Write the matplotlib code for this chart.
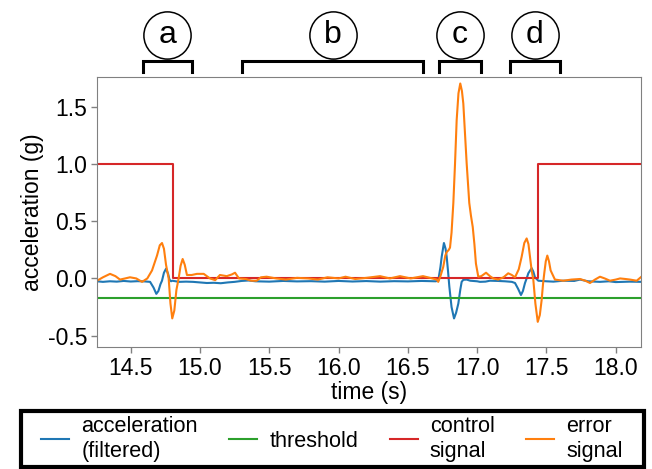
import numpy as np
import matplotlib
matplotlib.use('Agg')
import matplotlib.pyplot as plt
from matplotlib.patches import Rectangle

plt.rcParams['font.family'] = ['Liberation Sans', 'DejaVu Sans']
plt.rcParams['axes.unicode_minus'] = False

# acceleration (filtered)
acc_t = [14.257, 14.30, 14.35, 14.40, 14.45, 14.50, 14.55, 14.60, 14.64, 14.665,
         14.685, 14.70, 14.715, 14.726, 14.74, 14.755, 14.77, 14.78, 14.791, 14.80,
         14.85, 14.90, 14.95, 15.00, 15.05, 15.10, 15.15, 15.20, 15.25, 15.30,
         15.35, 15.40, 15.50, 15.60, 15.70, 15.80, 15.90, 16.00, 16.10, 16.20,
         16.30, 16.40, 16.50, 16.60, 16.70, 16.719, 16.735, 16.744, 16.760, 16.772,
         16.780, 16.790, 16.799, 16.815, 16.833, 16.848, 16.864, 16.878, 16.888, 16.90,
         16.924, 16.95, 17.00, 17.02, 17.06, 17.092, 17.15, 17.20, 17.25, 17.273,
         17.295, 17.316, 17.33, 17.345, 17.357, 17.369, 17.393, 17.405, 17.417, 17.441,
         17.50, 17.55, 17.62, 17.70, 17.742, 17.80, 17.886, 17.95, 18.00, 18.10, 18.19]
acc_v = [-0.025, -0.030, -0.025, -0.028, -0.022, -0.027, -0.024, -0.026, -0.030, -0.08,
         -0.135, -0.11, -0.05, -0.02, 0.05, 0.085, 0.04, -0.01, -0.025, -0.02,
         -0.030, -0.028, -0.030, -0.035, -0.040, -0.038, -0.042, -0.035, -0.030, -0.022,
         -0.018, -0.025, -0.028, -0.022, -0.026, -0.024, -0.028, -0.022, -0.027, -0.023,
         -0.028, -0.024, -0.026, -0.022, -0.025, -0.02, 0.10, 0.19, 0.31, 0.26,
         0.19, 0.06, -0.07, -0.25, -0.35, -0.30, -0.22, -0.10, -0.03, -0.012,
         -0.01, -0.02, -0.025, -0.03, -0.028, -0.02, -0.022, -0.025, -0.03, -0.04,
         -0.09, -0.145, -0.11, -0.04, 0.0, 0.045, 0.09, 0.06, 0.01, -0.02,
         -0.025, -0.028, -0.02, -0.022, -0.01, -0.025, -0.03, -0.025, -0.032, -0.028, -0.03]

# error signal
err_t = [14.257, 14.30, 14.351, 14.39, 14.423, 14.46, 14.495, 14.54, 14.582, 14.62,
         14.654, 14.69, 14.71, 14.726, 14.74, 14.755, 14.774, 14.787, 14.800, 14.815,
         14.83, 14.846, 14.86, 14.875, 14.89, 14.906, 14.94, 14.978, 15.027, 15.072,
         15.11, 15.144, 15.193, 15.23, 15.253, 15.281, 15.33, 15.37, 15.409, 15.44,
         15.481, 15.55, 15.62, 15.70, 15.78, 15.85, 15.92, 16.00, 16.05, 16.12,
         16.20, 16.299, 16.37, 16.443, 16.52, 16.609, 16.66, 16.708, 16.719, 16.735,
         16.755, 16.77, 16.78, 16.795, 16.804, 16.815, 16.828, 16.840, 16.852, 16.865,
         16.878, 16.890, 16.900, 16.912, 16.924, 16.943, 16.955, 16.968, 16.980, 16.991,
         17.008, 17.03, 17.064, 17.092, 17.116, 17.152, 17.19, 17.224, 17.25, 17.273,
         17.30, 17.321, 17.340, 17.357, 17.370, 17.381, 17.393, 17.405, 17.420, 17.437,
         17.452, 17.465, 17.475, 17.484, 17.495, 17.506, 17.518, 17.530, 17.561, 17.621,
         17.68, 17.742, 17.78, 17.814, 17.85, 17.886, 17.92, 17.958, 18.00, 18.031,
         18.07, 18.103, 18.151, 18.19]
err_v = [-0.02, 0.01, 0.04, 0.02, -0.01, 0.0, 0.01, 0.0, -0.03, 0.0,
         0.07, 0.20, 0.29, 0.31, 0.26, 0.12, 0.0, -0.22, -0.35, -0.28,
         -0.10, 0.0, 0.11, 0.17, 0.12, 0.03, 0.03, 0.04, 0.04, 0.0,
         -0.015, 0.03, 0.02, 0.035, 0.05, 0.0, -0.005, -0.02, -0.02, 0.01,
         0.015, 0.0, -0.01, 0.005, 0.0, -0.01, 0.01, 0.0, 0.015, -0.005,
         0.005, 0.02, 0.0, 0.02, 0.0, 0.02, 0.005, -0.01, -0.03, 0.02,
         0.10, 0.20, 0.23, 0.25, 0.27, 0.40, 0.66, 1.00, 1.385, 1.62,
         1.706, 1.64, 1.53, 1.27, 1.01, 0.66, 0.55, 0.45, 0.30, 0.13,
         0.015, 0.02, 0.05, 0.02, 0.0, -0.01, 0.01, 0.045, 0.03, 0.01,
         0.08, 0.19, 0.31, 0.35, 0.30, 0.19, 0.07, -0.01, -0.22, -0.38,
         -0.32, -0.19, -0.05, 0.045, 0.15, 0.20, 0.15, 0.07, -0.01, -0.02,
         -0.01, -0.005, -0.02, -0.04, -0.01, 0.015, 0.0, -0.02, -0.01, 0.0,
         -0.005, -0.01, -0.02, 0.02]

# control signal (steps) and threshold
ctrl_t = [14.257, 14.805, 17.437, 18.19]
ctrl_v = [1.0, 0.0, 1.0, 1.0]
thr_t = [14.257, 18.19]
thr_v = [-0.175, -0.175]

# marked regions above the plot
reg_labels = ['a', 'b', 'c', 'd']
reg_start = [14.59, 15.305, 16.728, 17.24]
reg_end = [14.94, 16.611, 17.025, 17.594]

fig = plt.figure(figsize=(6.52, 4.69), dpi=100)
ax = fig.add_axes([97/652, 1-347/469, 544/652, 269.7/469])

ax.plot(acc_t, acc_v, color='#1f77b4', lw=1.5, label='acceleration\n(filtered)')
ax.plot(thr_t, thr_v, color='#2ca02c', lw=1.5, label='threshold')
ax.step(ctrl_t, ctrl_v, where='post', color='#d62728', lw=1.5, label='control\nsignal')
ax.plot(err_t, err_v, color='#ff7f0e', lw=1.5, label='error\nsignal')

ax.set_xlim(14.257, 18.182)
ax.set_ylim(-0.6, 1.76)
ax.set_xticks([14.5, 15.0, 15.5, 16.0, 16.5, 17.0, 17.5, 18.0])
ax.set_yticks([-0.5, 0.0, 0.5, 1.0, 1.5])
ax.tick_params(labelsize=16.5, color='#808080', length=4, width=1, pad=3)
for s in ax.spines.values():
    s.set_color('#808080')
ax.set_xlabel('time (s)', fontsize=16.5, labelpad=1)
ax.set_ylabel('acceleration (g)', fontsize=16.5, labelpad=3)

tr = ax.get_xaxis_transform()
for lab, x0, x1 in zip(reg_labels, reg_start, reg_end):
    ax.plot([x0, x0, x1, x1], [1.021, 1.060, 1.060, 1.021], color='black', lw=2.2,
            transform=tr, clip_on=False, solid_joinstyle='miter')
    xc = (x0 + x1) / 2
    ax.plot([xc], [1.157], marker='o', ms=34, mfc='none', mec='black', mew=1.1,
            transform=tr, clip_on=False)
    ax.text(xc, 1.157, lab, transform=tr, ha='center', va='center', fontsize=23)

fig.add_artist(Rectangle((20.7/652, 2/469), 623/652, 56/469, transform=fig.transFigure,
                         fill=False, edgecolor='black', lw=3))
fig.legend(loc='center', bbox_to_anchor=(332/652, 1-439/469), ncol=4, frameon=False,
           fontsize=15.6, handlelength=1.3, handletextpad=0.55, columnspacing=1.45,
           labelspacing=0.2)

fig.savefig('out.png', dpi=100)
